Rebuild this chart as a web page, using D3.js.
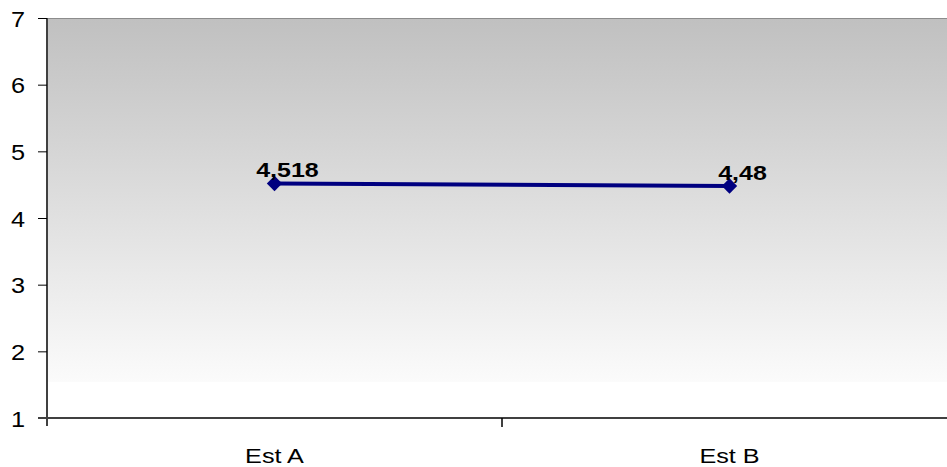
<!DOCTYPE html>
<html><head><meta charset="utf-8">
<script src="https://cdn.jsdelivr.net/npm/d3@7"></script>
<style>body{margin:0;background:#fff;}svg{display:block;font-family:Arial,"Liberation Sans",sans-serif;}</style>
</head><body>
<svg id="c" width="947" height="467"></svg>
<script>
const categories = ["Est A", "Est B"];
const values = [4.518, 4.48];
const valueLabels = ["4,518", "4,48"];
const yTicks = [1, 2, 3, 4, 5, 6, 7];

const svg = d3.select("#c");
const L = 47, R = 957, T = 18, B = 418;
const y = d3.scaleLinear().domain([1, 7]).range([B, T]);
const x = d3.scaleBand().domain(categories).range([L, R]);
const cx = d => x(d) + x.bandwidth() / 2;

const defs = svg.append("defs");
const g = defs.append("linearGradient").attr("id", "bg").attr("x1", 0).attr("y1", 0).attr("x2", 0).attr("y2", 1);
g.append("stop").attr("offset", "0%").attr("stop-color", "#c0c0c0");
g.append("stop").attr("offset", "100%").attr("stop-color", "#fbfbfb");

svg.append("rect").attr("x", L).attr("y", T).attr("width", R - L).attr("height", y(1.54) - T).attr("fill", "url(#bg)");
svg.append("line").attr("x1", L).attr("x2", R).attr("y1", T + 0.5).attr("y2", T + 0.5).attr("stroke", "#8c8c8c").attr("stroke-width", 1);

// y axis
const ya = svg.append("g").attr("transform", `translate(${L},0)`)
  .call(d3.axisLeft(y).tickValues(yTicks).tickSize(9).tickFormat(d3.format("d")));
ya.select(".domain").attr("stroke", "#404040").attr("stroke-width", 2).attr("d", `M0,${T}V${B + 8}`);
ya.selectAll(".tick line").attr("stroke", "#000");
ya.selectAll(".tick text").remove();
svg.append("g").selectAll("text").data(yTicks).join("text")
  .attr("transform", d => `translate(25,${y(d) + 8.5}) scale(1.15,1)`)
  .attr("text-anchor", "end").attr("font-size", 22).attr("fill", "#000")
  .text(d => d3.format("d")(d));

// x axis
const xa = svg.append("g").attr("transform", `translate(0,${B})`)
  .call(d3.axisBottom(x).tickSize(0));
xa.select(".domain").attr("stroke", "#404040").attr("stroke-width", 2).attr("d", `M${L - 9},0H${R}`);
xa.selectAll(".tick text").remove();
svg.append("g").selectAll("text").data(categories).join("text")
  .attr("transform", d => `translate(${cx(d)},463) scale(1.2,1)`)
  .attr("text-anchor", "middle").attr("font-size", 21).attr("fill", "#000")
  .text(d => d);
svg.append("g").selectAll("line").data(x.domain().slice(1)).join("line")
  .attr("x1", d => x(d)).attr("x2", d => x(d)).attr("y1", B).attr("y2", B + 9).attr("stroke", "#000").attr("stroke-width", 1.5);

// line
const line = d3.line().x((d, i) => cx(categories[i])).y(d => y(d));
svg.append("path").datum(values).attr("d", line).attr("fill", "none").attr("stroke", "#000080").attr("stroke-width", 4);

svg.append("g").selectAll("path").data(values).join("path")
  .attr("d", d3.symbol().type(d3.symbolDiamond2).size(150))
  .attr("transform", (d, i) => `translate(${cx(categories[i])},${y(d)})`)
  .attr("fill", "#000080");

svg.append("g").selectAll("text").data(values).join("text")
  .attr("transform", (d, i) => `translate(${cx(categories[i]) + 13},${y(d) - 6}) scale(1.22,1)`)
  .attr("text-anchor", "middle")
  .attr("font-size", 20.5).attr("font-weight", "bold").attr("fill", "#000")
  .text((d, i) => valueLabels[i]);
</script>
</body></html>
